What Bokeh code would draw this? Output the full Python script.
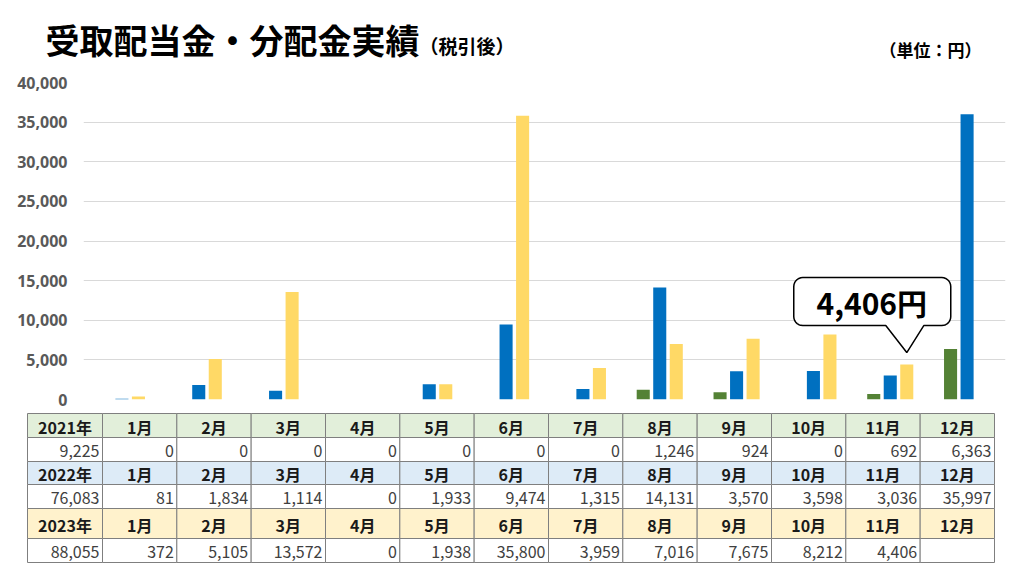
import numpy as np
from bokeh.plotting import figure
from bokeh.layouts import column
from bokeh.models import Range1d, FixedTicker, NumeralTickFormatter, ColumnDataSource
from bokeh.core.properties import value
from bokeh.embed import file_html
from bokeh.resources import INLINE

# ---------------- data ----------------
months = ["1月", "2月", "3月", "4月", "5月", "6月", "7月", "8月", "9月", "10月", "11月", "12月"]
years = ["2021年", "2022年", "2023年"]
v2021 = [0, 0, 0, 0, 0, 0, 0, 1246, 924, 0, 692, 6363]
v2022 = [81, 1834, 1114, 0, 1933, 9474, 1315, 14131, 3570, 3598, 3036, 35997]
v2023 = [372, 5105, 13572, 0, 1938, 35800, 3959, 7016, 7675, 8212, 4406, None]
y_ticks = [0, 5000, 10000, 15000, 20000, 25000, 30000, 35000, 40000]
title_text = "受取配当金・分配金実績"
subtitle_text = "（税引後）"
unit_text = "（単位：円）"
callout_text = "4,406円"

series = [v2021, v2022, v2023]
bar_colors = ["#548235", "#0070C0", "#FFD966"]
head_colors = ["#E2EFDA", "#DDEBF7", "#FFF2CC"]
JP = "Noto Sans CJK JP"

W = 1008

# ---------------- header figure (page y 0..70) ----------------
h = figure(width=W, height=70, x_range=Range1d(0, W), y_range=Range1d(70, 0),
           output_backend="svg", toolbar_location=None, frame_align=False,
           x_axis_location=None, y_axis_location=None, min_border=0)
h.grid.visible = False
h.outline_line_color = None
h.text(x=[45], y=[39], text=[title_text], text_font=value(JP), text_font_style="bold",
       text_font_size="34px", text_color="#000000", text_baseline="middle", text_align="left")
h.text(x=[419], y=[45], text=[subtitle_text], text_font=value(JP), text_font_style="bold",
       text_font_size="19px", text_color="#000000", text_baseline="middle", text_align="left")
h.text(x=[981], y=[49], text=[unit_text], text_font=value(JP), text_font_style="bold",
       text_font_size="17px", text_color="#000000", text_baseline="middle", text_align="right")

# ---------------- chart figure (page y 70..410) ----------------
p = figure(width=W, height=340, x_range=Range1d(-0.5, 11.5), y_range=Range1d(0, 40000),
           output_backend="svg", toolbar_location=None, x_axis_location=None, frame_align=False,
           min_border_left=83, min_border_right=3, min_border_top=12, min_border_bottom=11)
p.outline_line_color = None
p.xgrid.visible = False
p.ygrid.grid_line_color = "#D9D9D9"
p.ygrid.grid_line_width = 1
p.yaxis.ticker = FixedTicker(ticks=y_ticks)
p.yaxis.formatter = NumeralTickFormatter(format="0,0")
p.yaxis.axis_line_color = None
p.yaxis.major_tick_line_color = None
p.yaxis.minor_tick_line_color = None
p.yaxis.major_label_standoff = 10
p.yaxis.major_label_text_font = "Noto Sans"
p.yaxis.major_label_text_font_style = "bold"
p.yaxis.major_label_text_font_size = "16px"
p.yaxis.major_label_text_color = "#595959"

xs = np.arange(len(months))
offsets = [-0.215, 0.0, 0.215]
for vals, off, col in zip(series, offsets, bar_colors):
    tops = [np.nan if v is None else v for v in vals]
    src = ColumnDataSource(dict(x=xs + off, top=tops))
    p.vbar(x="x", top="top", width=0.17, source=src, fill_color=col, line_color=None)

# callout pointing at Nov 2023
ux = 922.0 / 12.0          # px per x unit
uy = 317.0 / 40000.0       # px per y unit
tip_x = xs[10] + offsets[2]
tip_y = v2023[10] + 12 / uy

def to_data(dx, dy):
    return tip_x + dx / ux, tip_y - dy / uy

L, R, T, B, r = -113, 44, -75, -27, 9
pts = []
def arc(cx, cy, a0, a1):
    for a in np.linspace(a0, a1, 8):
        pts.append((cx + r * np.cos(a), cy + r * np.sin(a)))
arc(L + r, T + r, np.pi, 1.5 * np.pi)
arc(R - r, T + r, 1.5 * np.pi, 2 * np.pi)
arc(R - r, B - r, 0, 0.5 * np.pi)
pts.append((17, B))
pts.append((0, 0))
pts.append((-21, B))
arc(L + r, B - r, 0.5 * np.pi, np.pi)
cx_list, cy_list = zip(*[to_data(a, b) for a, b in pts])
p.patch(list(cx_list), list(cy_list), fill_color="white", line_color="#000000", line_width=1.5)
tx, ty = to_data(-35, -51)
p.text(x=[tx], y=[ty], text=[callout_text], text_font=value(JP), text_font_style="bold",
       text_font_size="30px", text_color="#000000", text_align="center", text_baseline="middle")

# ---------------- table figure (page y 410..566) ----------------
t = figure(width=W, height=156, x_range=Range1d(0, W), y_range=Range1d(566, 410),
           output_backend="svg", toolbar_location=None, frame_align=False,
           x_axis_location=None, y_axis_location=None, min_border=0)
t.grid.visible = False
t.outline_line_color = None

row_edges = [413, 437, 461, 484, 508, 538, 562]
x0, x1, x_end = 27, 102, 994
cw = (x_end - x1) / 12.0
col_edges = [x0, x1] + [x1 + cw * (i + 1) for i in range(12)]

lefts, rights, topsq, bottoms, fills = [], [], [], [], []
hx, hy, htxt = [], [], []
vx, vy, vtxt = [], [], []
for k, (yl, vals) in enumerate(zip(years, series)):
    rh_top, rh_bot = row_edges[2 * k], row_edges[2 * k + 1]
    rv_top, rv_bot = row_edges[2 * k + 1], row_edges[2 * k + 2]
    total = sum(v for v in vals if v is not None)
    head_cells = [yl] + months
    val_cells = [f"{total:,}"] + ["" if v is None else f"{v:,}" for v in vals]
    for c in range(13):
        l, rr = col_edges[c], col_edges[c + 1]
        lefts += [l, l]; rights += [rr, rr]
        topsq += [rh_top, rv_top]; bottoms += [rh_bot, rv_bot]
        fills += [head_colors[k], "#FFFFFF"]
        hx.append((l + rr) / 2); hy.append((rh_top + rh_bot) / 2 + 1); htxt.append(head_cells[c])
        vx.append(rr - 3); vy.append((rv_top + rv_bot) / 2 + 1); vtxt.append(val_cells[c])

t.quad(left=lefts, right=rights, top=topsq, bottom=bottoms, fill_color=fills,
       line_color="#7F7F7F", line_width=1)
t.text(x=hx, y=hy, text=htxt, text_font=value(JP), text_font_style="bold",
       text_font_size="16px", text_color="#1A1A1A", text_align="center", text_baseline="middle")
t.text(x=vx, y=vy, text=vtxt, text_font=value(JP), text_font_size="16px",
       text_color="#404040", text_align="right", text_baseline="middle")

layout = column(h, p, t, spacing=0)
open("out.html", "w").write(file_html(layout, INLINE))
